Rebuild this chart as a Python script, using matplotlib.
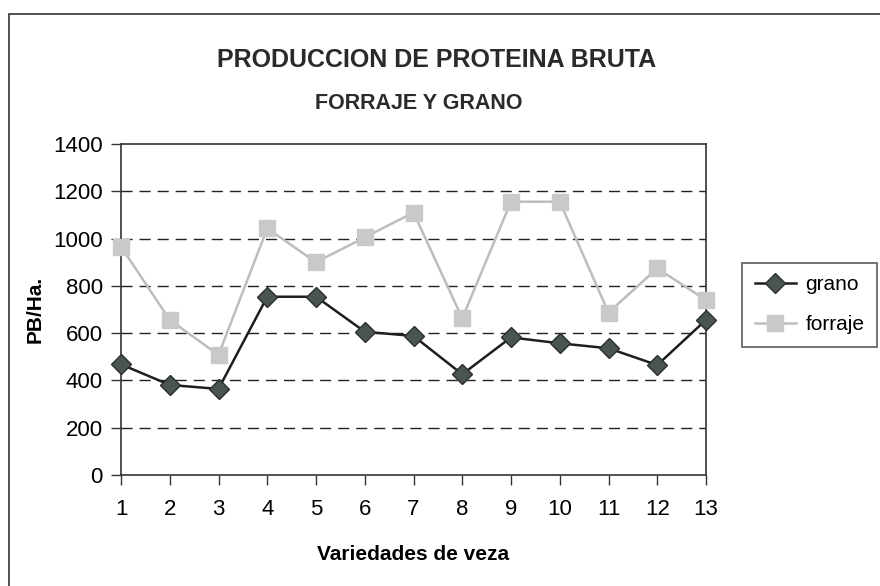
import matplotlib
matplotlib.use("Agg")
import matplotlib.pyplot as plt
from matplotlib.patches import Rectangle

variedades = list(range(1, 14))
grano = [468, 381, 364, 754, 754, 606, 588, 426, 582, 557, 536, 465, 656]
forraje = [966, 656, 508, 1043, 900, 1005, 1110, 663, 1156, 1156, 687, 874, 740]
yticks = [0, 200, 400, 600, 800, 1000, 1200, 1400]

plt.rcParams['font.family'] = ['Liberation Sans', 'DejaVu Sans']

fig = plt.figure(figsize=(8.8, 5.86), dpi=100)
fig.patch.set_facecolor('white')
fig.patches.append(Rectangle((9/880, -0.05), 1.0, 1 - 14/586 + 0.05, transform=fig.transFigure,
                             fill=False, edgecolor='#333333', linewidth=1.2))

ax = fig.add_axes([121/880, 1 - 475/586, (706 - 121)/880, (475 - 144)/586])
for y in yticks[1:-1]:
    ax.axhline(y, color='#222222', linewidth=1.0, linestyle=(0, (8, 5)), zorder=1)

ax.plot(variedades, forraje, color='#bdbdbd', linewidth=1.8, marker='s', markersize=11,
        markerfacecolor='#c9c9c9', markeredgecolor='#c9c9c9', label='forraje', zorder=3,
        clip_on=False)
ax.plot(variedades, grano, color='#1e1e1e', linewidth=1.8, marker='D', markersize=10.5,
        markerfacecolor='#4a5450', markeredgecolor='#2a302e', label='grano', zorder=4,
        clip_on=False)

ax.set_xlim(1, 13)
ax.set_ylim(0, 1400)
ax.set_xticks(variedades)
ax.set_yticks(yticks)
ax.tick_params(axis='both', labelsize=16, direction='out', length=7, color='#333333', width=1.0, pad=6)
ax.tick_params(axis='x', pad=10)
for s in ax.spines.values():
    s.set_color('#333333')
    s.set_linewidth(1.2)
ax.set_xlabel('Variedades de veza', fontsize=15, fontweight='bold', labelpad=18)
ax.set_ylabel('PB/Ha.', fontsize=15, fontweight='bold', labelpad=6)

fig.text(437/880, 1 - 60/586, 'PRODUCCION DE PROTEINA BRUTA', ha='center', va='center',
         fontsize=18, fontweight='bold', color='#2a2a2a')
fig.text(419/880, 1 - 103/586, 'FORRAJE Y GRANO', ha='center', va='center',
         fontsize=15.5, fontweight='bold', color='#2a2a2a')

h, l = ax.get_legend_handles_labels()
leg = fig.legend(h[::-1], l[::-1], loc='upper left',
                 bbox_to_anchor=(742/880, 1 - 263/586), fontsize=15,
                 frameon=True, fancybox=False, edgecolor='#333333', handlelength=2.0,
                 borderpad=0.6, labelspacing=1.0, handletextpad=0.45, borderaxespad=0)
leg.get_frame().set_linewidth(1.2)

fig.savefig('out.png', dpi=100)
